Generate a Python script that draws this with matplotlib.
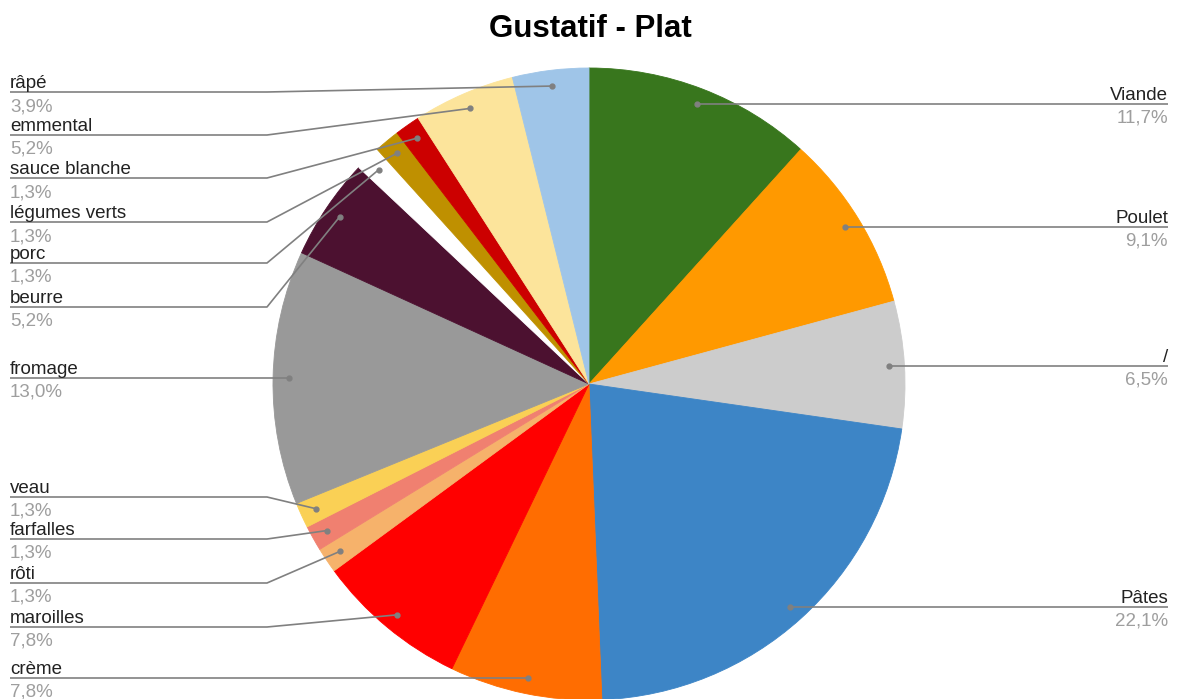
import numpy as np
import matplotlib
matplotlib.use("Agg")
import matplotlib.pyplot as plt

plt.rcParams["font.family"] = ["Liberation Sans", "DejaVu Sans"]

# Responses per dish component (77 answers), clockwise from the top.
labels = ["Viande", "Poulet", "/", "Pâtes", "crème", "maroilles", "rôti",
          "farfalles", "veau", "fromage", "beurre", "porc", "légumes verts",
          "sauce blanche", "emmental", "râpé"]
counts = [9, 7, 5, 17, 6, 6, 1, 1, 1, 10, 4, 1, 1, 1, 4, 3]
colors = ["#38761d", "#ff9900", "#cccccc", "#3d85c6", "#ff6d01", "#ff0000",
          "#f6b26b", "#f08070", "#fad055", "#999999", "#4c1130", "#ffffff",
          "#bf9000", "#cc0000", "#fce49b", "#9fc5e8"]

# label rows: (side, y of the underline in px); None = level with the anchor
label_rows = [("r", None), ("r", None), ("r", None), ("r", None), ("l", None),
              ("l", 627), ("l", 583), ("l", 539), ("l", 497), ("l", None),
              ("l", 307), ("l", 263), ("l", 222), ("l", 178), ("l", 135),
              ("l", 92)]

W, H = 1180, 699
cx, cy, R = 589, 384, 316

fig = plt.figure(figsize=(W / 100, H / 100), dpi=100)
ax = fig.add_axes([0, 0, 1, 1])

ax.pie(counts, colors=colors, center=(cx, cy), radius=R, startangle=-90,
       counterclock=True, wedgeprops=dict(linewidth=0.6, edgecolor="none"))
for w, c in zip(ax.patches, colors):
    w.set_edgecolor(c)

ax.set_xlim(0, W)
ax.set_ylim(H, 0)
ax.set_aspect("equal")
ax.axis("off")

total = sum(counts)
cum = np.cumsum([0] + counts)
line_col = "#808080"
for i, (name, n) in enumerate(zip(labels, counts)):
    mid = np.deg2rad(-90 + (cum[i] + n / 2) / total * 360)
    px = cx + 0.95 * R * np.cos(mid)
    py = cy + 0.95 * R * np.sin(mid)
    side, ly = label_rows[i]
    if ly is None:
        ly = py
    pct = f"{100 * n / total:.1f}%".replace(".", ",")
    if side == "r":
        xs = [px, 911, 1168]
        tx, ha = 1168, "right"
    else:
        xs = [px, 267, 10]
        tx, ha = 10, "left"
    ax.plot(xs, [py, ly, ly], color=line_col, lw=1.2, solid_capstyle="butt")
    ax.plot(px, py, "o", ms=3.5, color=line_col)
    ax.text(tx, ly - 4, name, ha=ha, va="baseline", fontsize=13.5, color="#222222")
    ax.text(tx, ly + 19, pct, ha=ha, va="baseline", fontsize=13.5, color="#9e9e9e")

ax.text(590, 29, "Gustatif - Plat", ha="center", va="center", fontsize=22.5,
        fontweight="bold", color="#000000")

fig.savefig("out.png", dpi=100)
